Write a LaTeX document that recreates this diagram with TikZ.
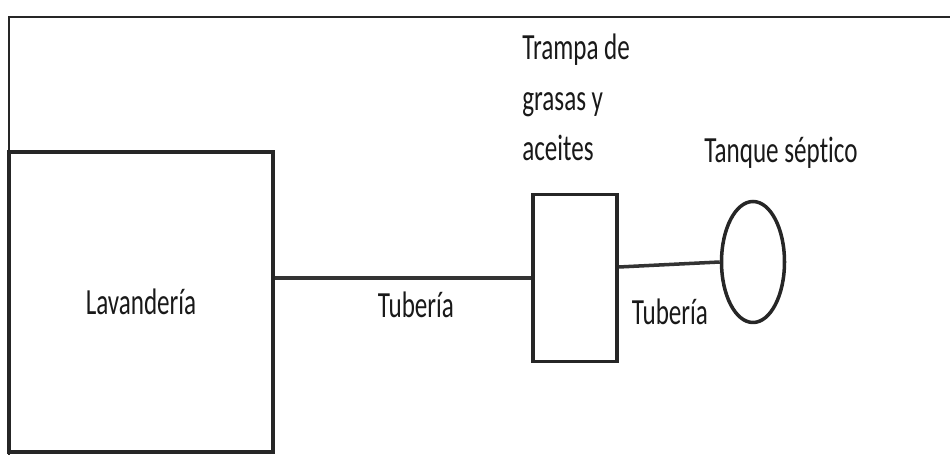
\documentclass[tikz,border=0pt]{standalone}
\usepackage{fontspec}
\setmainfont{Carlito}[Ligatures=NoCommon]
\usetikzlibrary{positioning,shapes.geometric}

\tikzset{
  wall/.style={draw=black!85, line width=2pt},
  pipe/.style={draw=black!80, line width=2pt},
  lbl/.style={font=\fontsize{21}{29}\selectfont, inner sep=0pt, text=black!90},
}
\newcommand{\narrow}[1]{\scalebox{0.68}[1]{#1}}

\begin{document}
\begin{tikzpicture}[x=0.02cm, y=-0.02cm]

    \useasboundingbox (0,0) rectangle (950,455);
    % frame
    \draw[black!85, line width=1.2pt] (9,455) -- (9,17) -- (950,17);

    \node[wall, lbl, minimum width=5.28cm, minimum height=6cm] (lav) at (141,302) {\narrow{Lavandería}};
    \node[wall, minimum width=1.68cm, minimum height=3.34cm] (trampa) at (575,278) {};
    \node[wall, ellipse, inner sep=0pt, minimum width=1.26cm, minimum height=2.42cm] (tanque) at (753,262) {};

    \node[lbl, align=left, anchor=base west] (trampalbl) at (522,161) {\narrow{Trampa de}\\\narrow{grasas y}\\\narrow{aceites}};
    \node[lbl, anchor=base] (tanquelbl) at (781,163) {\narrow{Tanque séptico}};
    \node[lbl] (tub1) at (416,305) {\narrow{Tubería}};
    \node[lbl] (tub2) at (670,312) {\narrow{Tubería}};

    \draw[pipe] (trampa.west) -- (trampa.west -| lav.east);
    \draw[pipe] ([yshift=0.22cm]trampa.east) -- (tanque.west);

\end{tikzpicture}
\end{document}
